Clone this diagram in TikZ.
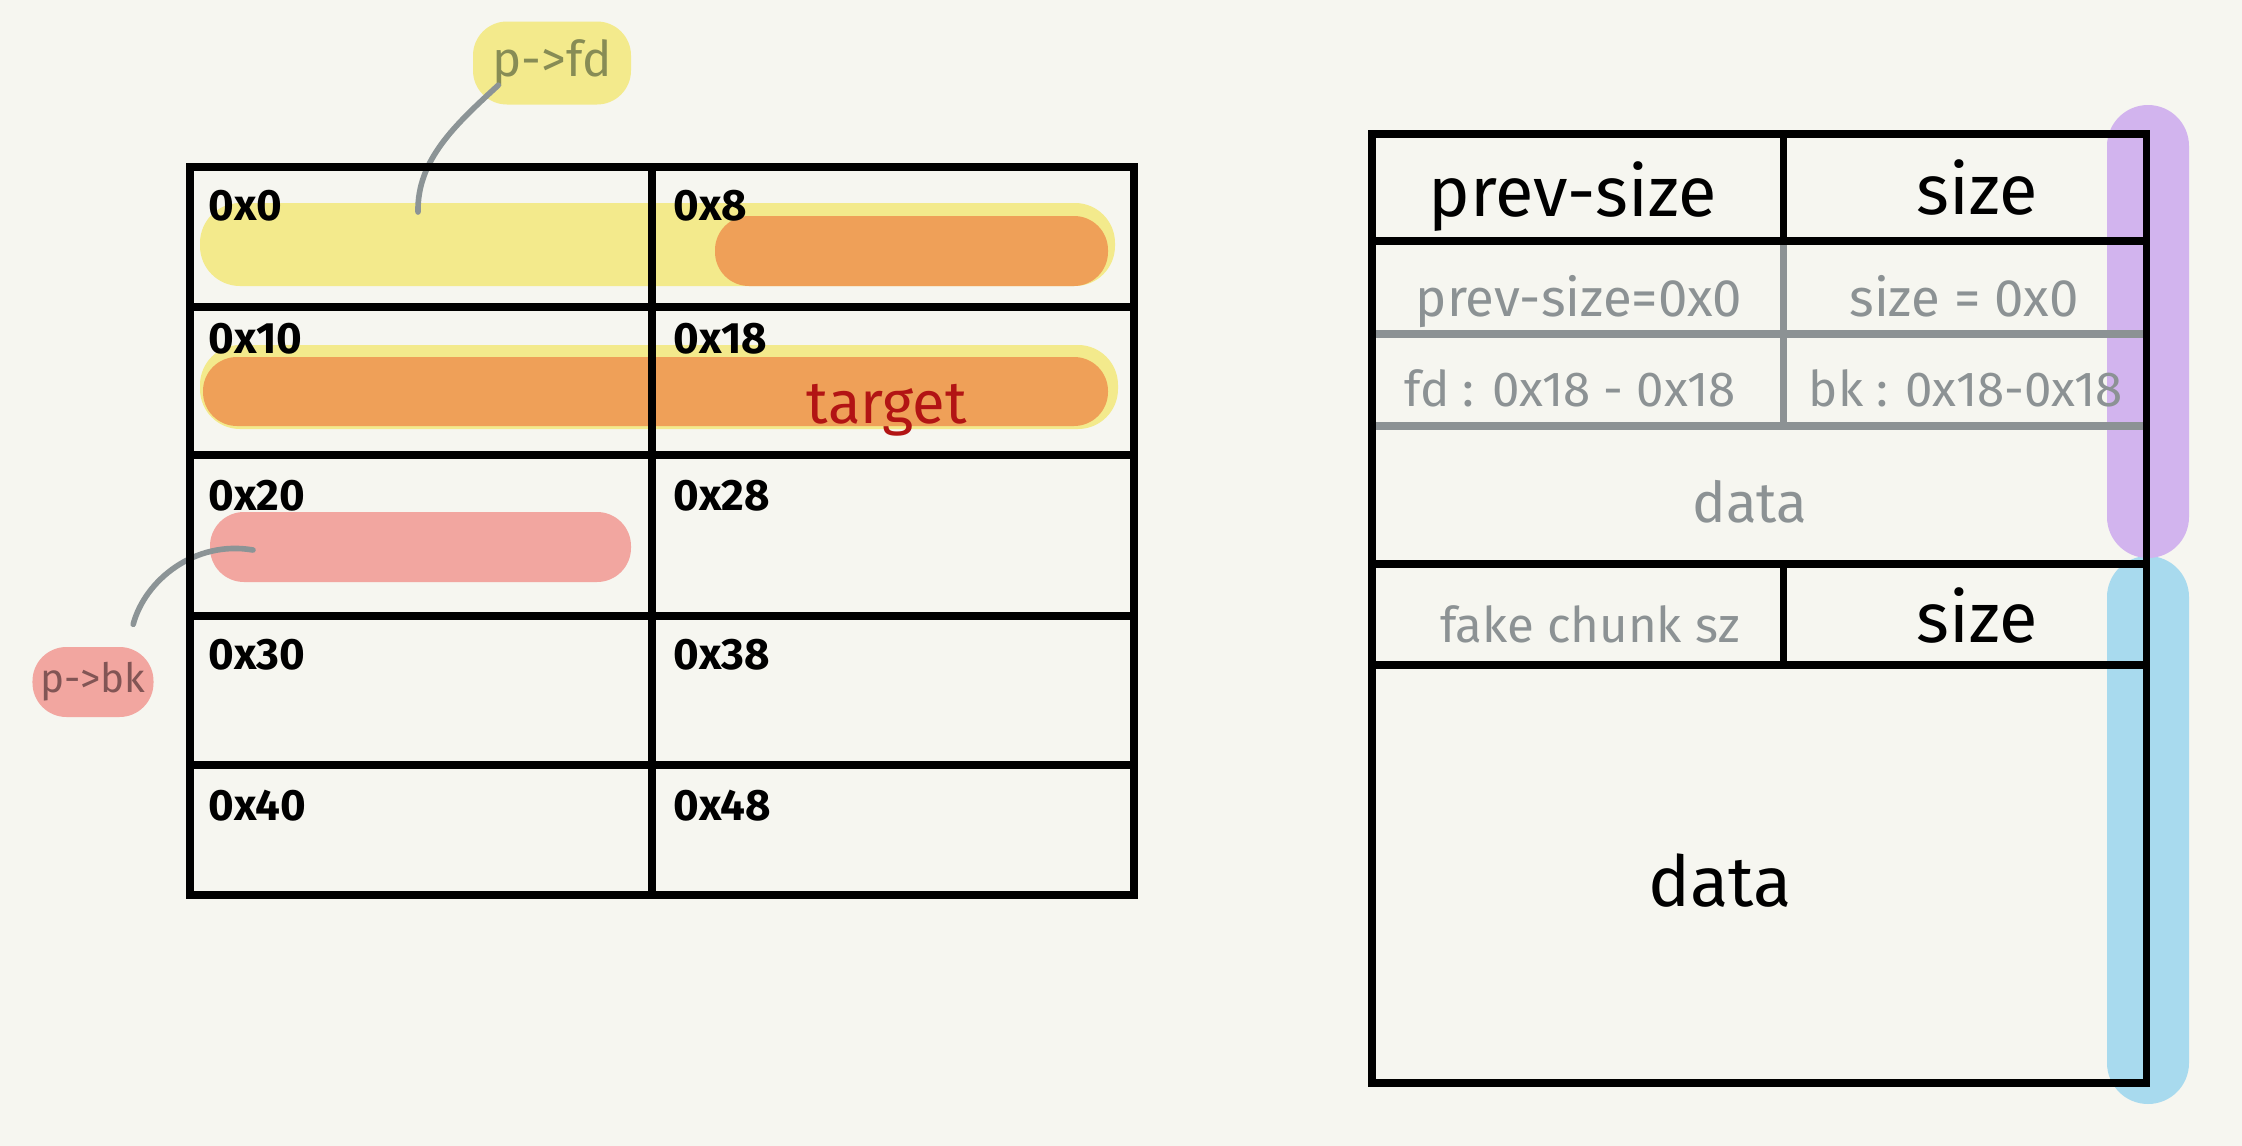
\documentclass[tikz,border=0pt]{standalone}
\usepackage{fontspec}
\setmainfont{Fira Sans}
\usepackage{tikz}
\usetikzlibrary {calc,
                 positioning}
\definecolor{paper}{RGB}{246,246,240}
\definecolor{hlyellow}{RGB}{243,234,140}
\definecolor{hlorange}{RGB}{239,160,88}
\definecolor{hlpink}{RGB}{242,166,160}
\definecolor{hlpurple}{RGB}{210,180,238}
\definecolor{hlblue}{RGB}{168,218,238}
\definecolor{notegray}{RGB}{140,146,148}
\definecolor{leadgray}{RGB}{140,148,150}
\definecolor{targetred}{RGB}{178,20,20}
\definecolor{fdolive}{RGB}{135,140,85}
\definecolor{bkbrown}{RGB}{130,85,85}
\tikzset{
        pill/.style={rectangle, inner sep=0pt, draw=none, rounded corners=#1},
        bubble/.style={rectangle, inner sep=0pt, rounded corners=3.4mm},
        addr/.style={anchor=base west, inner sep=0pt,
                     font=\fontsize{12.5}{14}\selectfont\bfseries},
        head/.style={anchor=base, inner sep=0pt,
                     font=\fontsize{20}{24}\selectfont},
        note/.style={anchor=base, inner sep=0pt, text=notegray,
                     font=\fontsize{15}{18}\selectfont},
        cell/.style={line width=2pt, line cap=round},
        rule/.style={draw=notegray, line width=2pt, line cap=round},
        leader/.style={draw=leadgray, line width=1.6pt, line cap=round},
 }
\begin{document}
\begin{tikzpicture}[x=1cm, y=-1cm]
    \fill[paper] (0,0) rectangle (22.42,11.46);

    % highlighted words
    \node[pill=4mm, fill=hlyellow, minimum width=9.15cm, minimum height=8.3mm] (fdbar) at (6.575,2.445) {};
    \node[pill=3.4mm, fill=hlorange, minimum width=3.93cm, minimum height=7mm] (sizebar) at (9.115,2.51) {};
    \node[pill=4mm, fill=hlyellow, minimum width=9.18cm, minimum height=8.4mm] (fdbar2) at (6.59,3.87) {};
    \node[pill=3.4mm, fill=hlorange, minimum width=9.05cm, minimum height=6.9mm] (tgtbar) at (6.555,3.915) {};
    \node[pill=3.4mm, fill=hlpink, minimum width=4.21cm, minimum height=7mm] (bkbar) at (4.205,5.47) {};
    \node[anchor=base, inner sep=0pt, text=targetred, font=\fontsize{17}{20}\selectfont] (target) at (8.87,4.23) {target};

    % callouts
    \node[bubble, fill=hlyellow, text=fdolive, font=\fontsize{14}{16}\selectfont,
          minimum width=1.58cm, minimum height=8.3mm] (pfd) at (5.52,0.63) {p->fd};
    \node[bubble, fill=hlpink, text=bkbrown, font=\fontsize{11.5}{14}\selectfont,
          minimum width=1.21cm, minimum height=7mm] (pbk) at (0.93,6.82) {p->bk};
    \coordinate (fdtip) at (4.18,2.12);
    \coordinate (bktip) at (2.53,5.50);
    \draw[leader] ([shift={(0.26,-0.2)}]pfd.south west) .. controls (4.55,1.25) and (4.17,1.60) .. (fdtip);
    \draw[leader] ([shift={(-0.21,-0.22)}]pbk.north east) .. controls (1.45,5.80) and (1.95,5.40) .. (bktip);

    % left table
    \draw[cell] (1.90,1.67) rectangle (11.34,8.95);
    \foreach \y in {3.07,4.55,6.16,7.65}
        \draw[cell] (1.90,\y) -- (11.34,\y);
    \draw[cell] (6.52,1.67) -- (6.52,8.95);
    \foreach \n/\y/\l/\r in {0/2.20/0x0/0x8, 1/3.53/0x10/0x18, 2/5.10/0x20/0x28,
                             3/6.69/0x30/0x38, 4/8.20/0x40/0x48} {
        \node[addr] (l\n) at (2.08,\y) {\l};
        \node[addr] (r\n) at (6.73,\y) {\r};
    }

    % right table
    \node[pill=4.1mm, fill=hlblue, minimum width=8.2mm, minimum height=5.48cm] (newbar) at (21.48,8.30) {};
    \node[pill=4.1mm, fill=hlpurple, minimum width=8.2mm, minimum height=4.53cm] (oldbar) at (21.48,3.315) {};
    \draw[rule] (17.83,2.41) -- (17.83,4.26);
    \foreach \y in {3.34,4.26}
        \draw[rule] (13.72,\y) -- (21.46,\y);
    \draw[cell] (13.72,1.34) rectangle (21.46,10.83);
    \foreach \y in {2.41,5.64,6.65}
        \draw[cell] (13.72,\y) -- (21.46,\y);
    \draw[cell] (17.83,1.34) -- (17.83,2.41);
    \draw[cell] (17.83,5.64) -- (17.83,6.65);

    \node[head] (prevsize) at (15.73,2.16) {prev-size};
    \node[head] (size) at (19.77,2.15) {size};
    \node[note] (prevval) at (15.79,3.16) {prev-size=0x0};
    \node[note] (sizeval) at (19.64,3.16) {size = 0x0};
    \node[note, font=\fontsize{14}{17}\selectfont] (fdval) at (15.70,4.06) {fd : 0x18 - 0x18};
    \node[note, font=\fontsize{14}{17}\selectfont] (bkval) at (19.66,4.06) {bk : 0x18-0x18};
    \node[note, font=\fontsize{16}{19}\selectfont] (olddata) at (17.50,5.22) {data};
    \node[note, font=\fontsize{14}{17}\selectfont] (fakesz) at (15.90,6.42) {fake chunk sz};
    \node[head] (size2) at (19.77,6.42) {size};
    \node[head] (newdata) at (17.20,9.06) {data};
\end{tikzpicture}
\end{document}
